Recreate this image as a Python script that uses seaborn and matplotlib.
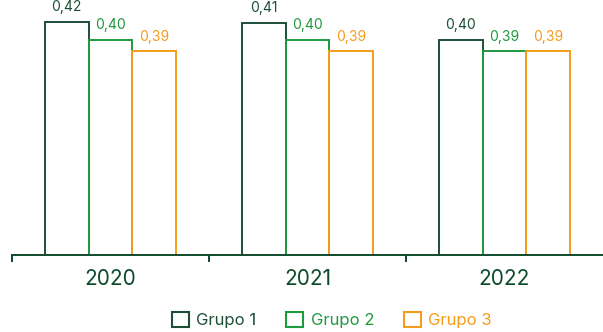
import pandas as pd
import seaborn as sns
import matplotlib.pyplot as plt
from matplotlib.patches import Patch
from matplotlib.ticker import FixedLocator

# Dados
anos = ["2020", "2021", "2022"]
grupos = ["Grupo 1", "Grupo 2", "Grupo 3"]
grupo1 = [0.4155, 0.4148, 0.400]
grupo2 = [0.400, 0.400, 0.390]
grupo3 = [0.390, 0.390, 0.390]

cores = ["#1d4f37", "#1f9a3f", "#f49c1c"]
cor_eixo = "#0d4a2c"

sns.set_theme(style="white")
plt.rcParams["font.family"] = ["Inter", "DejaVu Sans"]

df = pd.DataFrame({
    "Ano": anos * 3,
    "Grupo": [g for g in grupos for _ in anos],
    "Valor": grupo1 + grupo2 + grupo3,
})

fig = plt.figure(figsize=(6.03, 3.32), dpi=100)
ax = fig.add_axes([12 / 603, 77 / 332, 591 / 603, 255 / 332])

sns.barplot(data=df, x="Ano", y="Valor", hue="Grupo", order=anos, hue_order=grupos,
            palette=cores, fill=False, width=0.67, gap=0, linewidth=1.4,
            errorbar=None, legend=False, ax=ax)

# rótulos dos valores
for cont, cor in zip(ax.containers, cores):
    for barra in cont:
        v = barra.get_height()
        ax.annotate(f"{v:.2f}".replace(".", ","),
                    (barra.get_x() + barra.get_width() / 2, v),
                    xytext=(0, 5.5), textcoords="offset points",
                    ha="center", va="bottom", fontsize=10, color=cor)

ax.set_ylim(0.213, 0.4346)
ax.set_xlim(-0.5, 2.5)
ax.set_xlabel("")
ax.set_ylabel("")
ax.set_yticks([])

for s in ["top", "right", "left"]:
    ax.spines[s].set_visible(False)
ax.spines["bottom"].set_color(cor_eixo)
ax.spines["bottom"].set_linewidth(1.4)

ax.tick_params(axis="x", which="major", length=0, pad=10, labelsize=15, labelcolor=cor_eixo)
ax.xaxis.set_minor_locator(FixedLocator([-0.5, 0.5, 1.5]))
ax.tick_params(axis="x", which="minor", bottom=True, length=5, width=1.4,
               color=cor_eixo, direction="out")

handles = [Patch(facecolor="none", edgecolor=c, linewidth=1.5) for c in cores]
leg = fig.legend(handles, grupos, loc="center", bbox_to_anchor=(332 / 603, 1 - 320 / 332),
                 ncol=3, frameon=False, fontsize=12, handlelength=1.0, handleheight=1.0,
                 handletextpad=0.45, columnspacing=1.8)
for txt, c in zip(leg.get_texts(), cores):
    txt.set_color(c)

fig.savefig("out.png", dpi=100)
